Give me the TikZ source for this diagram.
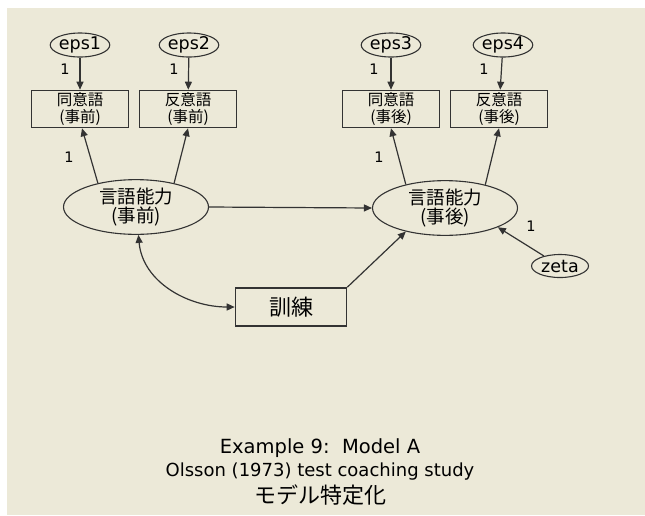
\documentclass[tikz,border=0pt]{standalone}
\usepackage{fontspec}
\setmainfont{DejaVu Sans}
\newfontfamily\jp{Noto Sans CJK JP}
\usetikzlibrary{shapes.geometric,arrows.meta}
\definecolor{bgxp}{HTML}{ECE9D8}
\definecolor{ln}{HTML}{333333}
\tikzset{
  errell/.style={ellipse,draw=ln,line width=1.1pt,minimum width=56pt,minimum height=24pt,inner sep=0pt,font=\fontsize{17.5}{19}\selectfont},
  latell/.style={ellipse,draw=ln,line width=1.1pt,minimum width=145pt,minimum height=54pt,inner sep=0pt,align=center,font=\jp\fontsize{18.5}{19.5}\selectfont},
  obsbox/.style={rectangle,draw=ln,line width=1.6pt,minimum width=97pt,minimum height=37pt,inner sep=0pt,align=center,font=\jp\fontsize{15.5}{17.5}\selectfont},
  trbox/.style={rectangle,draw=ln,line width=1.6pt,minimum width=111pt,minimum height=38pt,inner sep=0pt,font=\jp\fontsize{22}{24}\selectfont},
  arr/.style={draw=ln,line width=1.2pt,-{Triangle[length=8pt,width=7pt]}},
  darr/.style={draw=ln,line width=1.2pt,{Triangle[length=8pt,width=7pt]}-{Triangle[length=8pt,width=7pt]}},
  onelab/.style={font=\fontsize{14.5}{16}\selectfont,inner sep=0pt},
  caption/.style={font=\fontsize{18}{20}\selectfont,inner sep=0pt},
}
\begin{document}
\begin{tikzpicture}[x=1pt,y=-1pt]
\useasboundingbox (0,0) rectangle (645,515);
\fill[white] (0,0) rectangle (645,515);
\fill[bgxp] (7,8) rectangle (645,515);

% error terms
\node[errell] (e1) at (80,45) {eps1};
\node[errell] (e2) at (189,45) {eps2};
\node[errell] (e3) at (391,45) {eps3};
\node[errell] (e4) at (503,45) {eps4};
\node[errell,minimum width=57pt,minimum height=23pt] (z) at (560,266) {zeta};

% observed
\node[obsbox] (b1) at (80,109) {同意語\\(事前)};
\node[obsbox] (b2) at (188,109) {反意語\\(事前)};
\node[obsbox] (b3) at (391,109) {同意語\\(事後)};
\node[obsbox] (b4) at (499,109) {反意語\\(事後)};

% latent
\node[latell] (L) at (136,207) {言語能力\\(事前)};
\node[latell] (R) at (445,208) {言語能力\\(事後)};

% training
\node[trbox] (T) at (291,307) {訓練};

% arrows
\draw[arr] (e1) -- (b1);
\draw[arr] (e2) -- (b2);
\draw[arr] (e3) -- (b3);
\draw[arr] (e4) -- (b4);
\draw[arr] (L.148) -- ([xshift=2pt]b1.south);
\draw[arr] (L.32) -- (b2.south);
\draw[arr] (R.149) -- (b3.south);
\draw[arr] (R.30) -- (b4.south);
\draw[arr] (L.east) -- (R.west);
\draw[arr] (T.north east) -- (R.211);
\draw[arr] (z) -- (R.-20);
\draw[darr] (L.-85) to[out=-85,in=180] (T.west);

% labels
\node[onelab] (l1) at (65,69) {1};
\node[onelab] (l2) at (174,69) {1};
\node[onelab] (l3) at (374,69) {1};
\node[onelab] (l4) at (484,69) {1};
\node[onelab] (l5) at (69,157) {1};
\node[onelab] (l6) at (379,157) {1};
\node[onelab] (l7) at (531,226) {1};

% captions
\node[caption,font=\fontsize{19.5}{22}\selectfont] (c1) at (320,448) {Example 9:\ \ Model A};
\node[caption] (c2) at (320,472) {Olsson (1973) test coaching study};
\node[caption,font=\jp\fontsize{22}{24}\selectfont] (c3) at (320,495) {モデル特定化};
\end{tikzpicture}
\end{document}
